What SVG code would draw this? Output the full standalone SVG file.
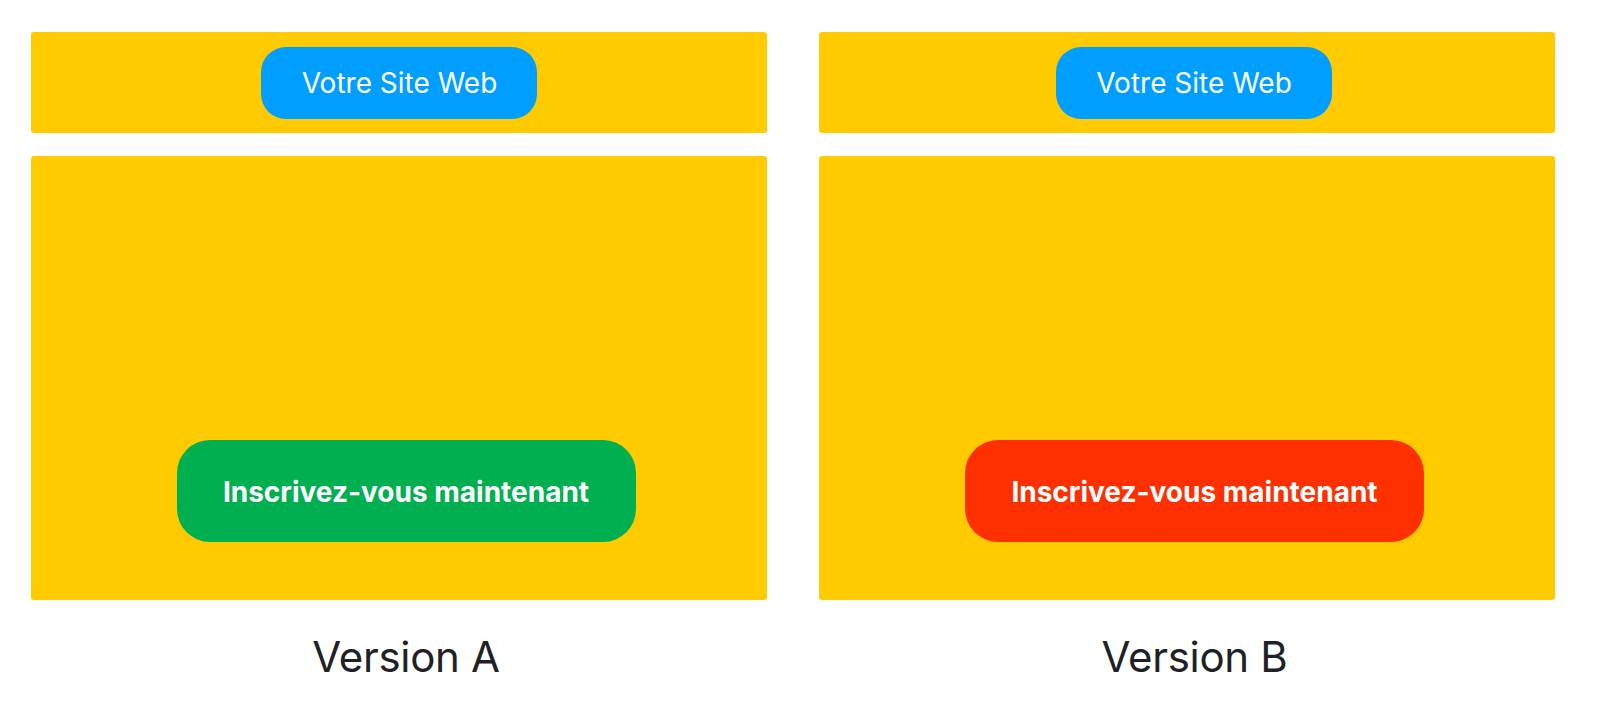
<svg xmlns="http://www.w3.org/2000/svg" width="1600" height="724" viewBox="0 0 1600 724">
  <style>
    .panel { fill: #FFCA00; }
    .pill { fill: #009FFF; }
    .pill-text { font-family: Inter, "Noto Sans", "Liberation Sans", sans-serif; font-size: 28px; fill: #FFFFFF; text-anchor: middle; }
    .cta-text { font-family: Inter, "Noto Sans", "Liberation Sans", sans-serif; font-size: 28px; font-weight: 700; fill: #FFFFFF; text-anchor: middle; }
    .caption { font-family: Inter, "Noto Sans", "Liberation Sans", sans-serif; font-size: 42px; fill: #1E2126; text-anchor: middle; letter-spacing: -0.3px; }
  </style>
  <rect x="0" y="0" width="1600" height="724" fill="#FFFFFF"/>
  <g id="connectors"></g>
  <g id="version-a">
    <rect class="panel" x="31" y="32" width="736" height="101" rx="3"/>
    <rect class="panel" x="31" y="156" width="736" height="444" rx="3"/>
    <g id="site-a">
      <rect class="pill" x="261" y="47" width="276" height="72" rx="25"/>
      <text class="pill-text" x="399.5" y="93">Votre Site Web</text>
    </g>
    <g id="cta-a">
      <rect x="177" y="440" width="459" height="102" rx="33" fill="#00B050"/>
      <text class="cta-text" x="406" y="502">Inscrivez-vous maintenant</text>
    </g>
    <text class="caption" x="406" y="672">Version A</text>
  </g>
  <g id="version-b">
    <rect class="panel" x="819" y="32" width="736" height="101" rx="3"/>
    <rect class="panel" x="819" y="156" width="736" height="444" rx="3"/>
    <g id="site-b">
      <rect class="pill" x="1056" y="47" width="276" height="72" rx="25"/>
      <text class="pill-text" x="1194" y="93">Votre Site Web</text>
    </g>
    <g id="cta-b">
      <rect x="965" y="440" width="459" height="102" rx="33" fill="#FF3000"/>
      <text class="cta-text" x="1194.5" y="502">Inscrivez-vous maintenant</text>
    </g>
    <text class="caption" x="1194.5" y="672">Version B</text>
  </g>
</svg>
